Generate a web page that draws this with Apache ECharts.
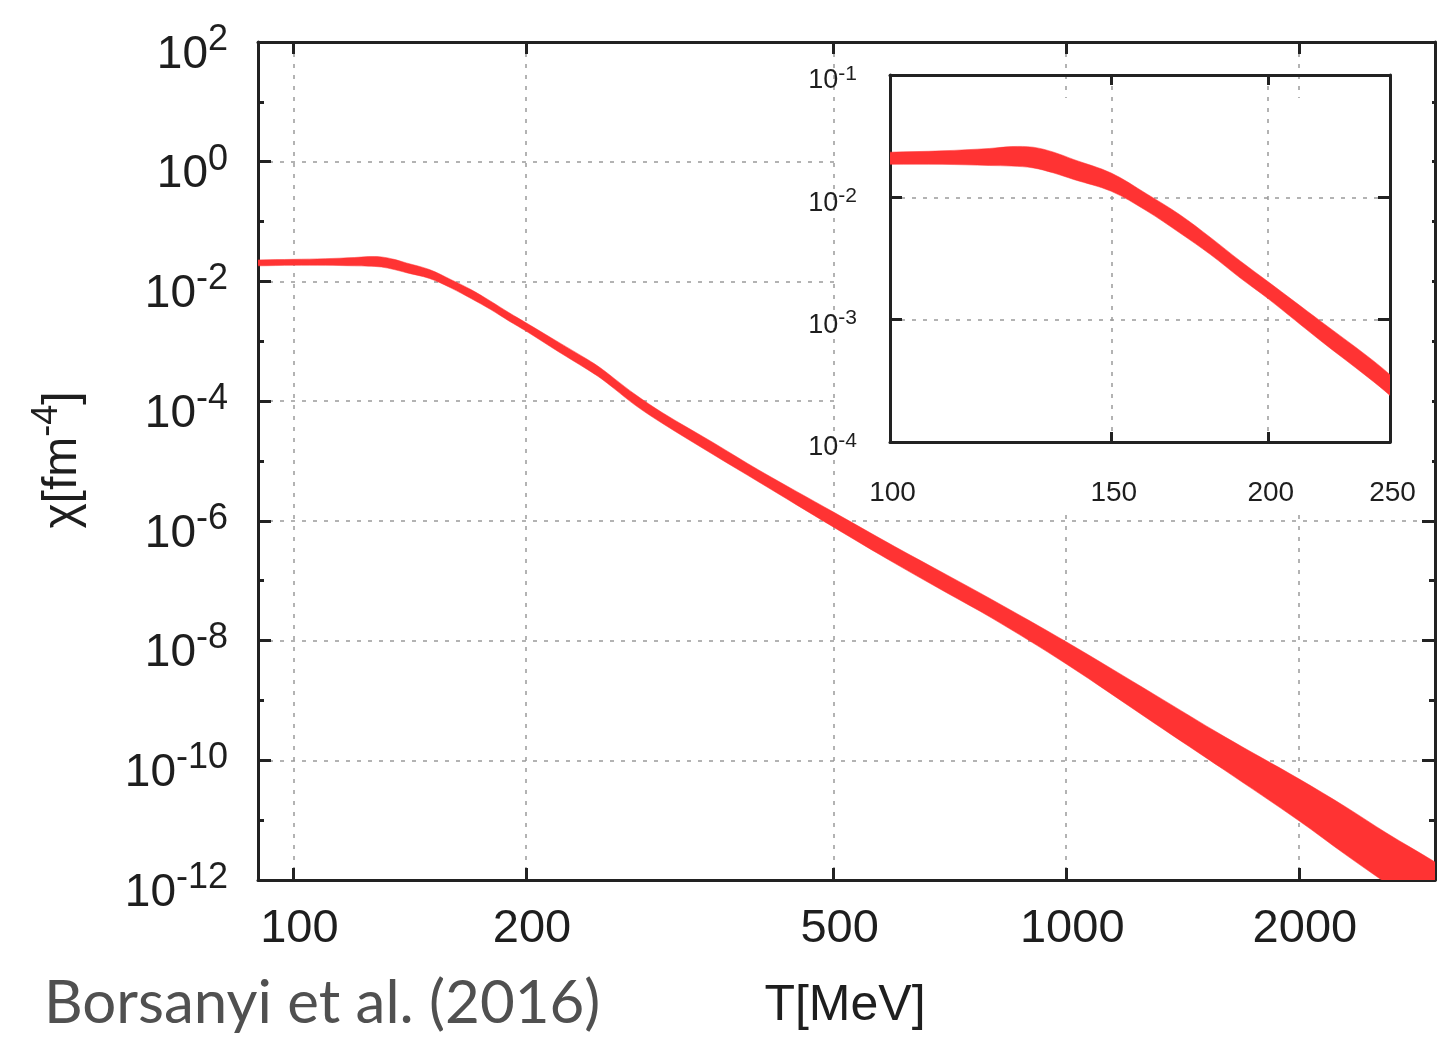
<!DOCTYPE html>
<html><head><meta charset="utf-8">
<script src="https://cdn.jsdelivr.net/npm/echarts@6/dist/echarts.min.js"></script>
<style>html,body{margin:0;padding:0;background:#fff}#c{width:1448px;height:1037px}</style>
</head><body><div id="c"></div>
<script>
// ---- data ----
const temperatures = [85, 90, 100, 110, 120, 125, 130, 135, 140, 150, 160, 170, 180, 190, 200, 220, 240, 250, 260, 277, 300, 350, 400, 500, 600, 700, 800, 1000, 1300, 1600, 2000, 2300, 2600, 3000, 3200];
const chiUpper = [2.29e-2, 2.29e-2, 2.34e-2, 2.40e-2, 2.51e-2, 2.60e-2, 2.57e-2, 2.34e-2, 2.04e-2, 1.58e-2, 1.07e-2, 7.24e-3, 4.68e-3, 3.02e-3, 2.04e-3, 9.77e-4, 5.01e-4, 3.55e-4, 2.40e-4, 1.29e-4, 6.46e-5, 2.00e-5, 7.08e-6, 1.40e-6, 3.72e-7, 1.26e-7, 4.90e-8, 9.55e-9, 1.26e-9, 2.51e-10, 4.90e-11, 1.66e-11, 6.03e-12, 2.00e-12, 1.17e-12];
const chiLower = [1.82e-2, 1.82e-2, 1.86e-2, 1.86e-2, 1.82e-2, 1.80e-2, 1.74e-2, 1.58e-2, 1.40e-2, 1.12e-2, 7.76e-3, 5.13e-3, 3.39e-3, 2.19e-3, 1.48e-3, 6.76e-4, 3.39e-4, 2.40e-4, 1.62e-4, 8.51e-5, 4.27e-5, 1.26e-5, 4.47e-6, 7.85e-7, 1.95e-7, 6.31e-8, 2.40e-8, 4.07e-9, 4.17e-10, 6.92e-11, 9.77e-12, 2.63e-12, 8.71e-13, 2.51e-13, 1.41e-13];
const xTickLabels = [100, 200, 500, 1000, 2000];
const yMajorTicks = [1e2, 1e0, 1e-2, 1e-4, 1e-6, 1e-8, 1e-10, 1e-12];
const yMinorTicks = [1e1, 1e-1, 1e-3, 1e-5, 1e-7, 1e-9, 1e-11];
const insetXTicks = [100, 150, 200, 250];
const insetYTicks = [1e-1, 1e-2, 1e-3, 1e-4];

// ---- styles ----
const FONT = 'Liberation Sans';
const TXT = '#1e1e1e';
const FRAME = '#222';
const BAND = '#ff3333';
const GRIDLINE = {show: true, lineStyle: {color: '#9a9a9a', width: 1.5, type: [4, 7]}};

function powLabel(v) {
  const e = Math.round(Math.log10(v));
  return '{b|10}{s|' + e + '}';
}
function plainLabel(v) { return String(Math.round(v)); }
function bandRenderer(params, api) {
  if (params.dataIndex !== 0) return;
  const pts = [];
  for (let i = 0; i < temperatures.length; i++) pts.push(api.coord([temperatures[i], chiUpper[i]]));
  for (let i = temperatures.length - 1; i >= 0; i--) pts.push(api.coord([temperatures[i], chiLower[i]]));
  return {type: 'polygon', shape: {points: pts, smooth: 0.35}, style: {fill: BAND, stroke: BAND, lineWidth: 0.5}};
}
const bandData = temperatures.map((t, i) => [t, chiUpper[i]]);

function ax(grid, pos, opts) {
  return Object.assign({
    type: 'log', gridIndex: grid, position: pos, logBase: 10,
    axisLine: {show: true, lineStyle: {color: FRAME, width: 3}},
    axisTick: {show: true, inside: true, length: 12, lineStyle: {color: FRAME, width: 3}},
    axisLabel: {show: false},
    splitLine: {show: false}, minorTick: {show: false}, minorSplitLine: {show: false}
  }, opts);
}

const mainYLabelRich = {
  b: {fontSize: 46, fontFamily: FONT, color: TXT, lineHeight: 56, verticalAlign: 'bottom'},
  s: {fontSize: 36, fontFamily: FONT, color: TXT, lineHeight: 6, verticalAlign: 'top'}
};
const insetYLabelRich = {
  b: {fontSize: 27, fontFamily: FONT, color: TXT, lineHeight: 31, verticalAlign: 'bottom'},
  s: {fontSize: 21, fontFamily: FONT, color: TXT, lineHeight: 4, verticalAlign: 'top'}
};

const option = {
  backgroundColor: '#fff',
  animation: false,
  grid: [
    {left: 258, top: 42, right: 13, bottom: 157, show: false},
    {left: 890, top: 75, width: 500, height: 367, show: false, z: 10}
  ],
  xAxis: [
    ax(0, 'bottom', {min: 90, max: 3000,
      axisTick: {show: true, inside: true, length: 12, customValues: xTickLabels, lineStyle: {color: FRAME, width: 3}},
      axisLabel: {show: true, customValues: xTickLabels, formatter: plainLabel, fontSize: 47, fontFamily: FONT, color: TXT, margin: 26, padding: [0, 0, 0, 12]},
      splitLine: GRIDLINE}),
    ax(0, 'top', {min: 90, max: 3000,
      axisTick: {show: true, inside: true, length: 12, customValues: xTickLabels, lineStyle: {color: FRAME, width: 3}}}),
    ax(1, 'bottom', {min: 100, max: 250, z: 10,
      axisTick: {show: true, inside: true, length: 10, customValues: insetXTicks, lineStyle: {color: FRAME, width: 3}},
      axisLabel: {show: true, customValues: insetXTicks, formatter: plainLabel, fontSize: 28, fontFamily: FONT, color: TXT, margin: 37, padding: [0, 0, 0, 5]},
      splitLine: GRIDLINE}),
    ax(1, 'top', {min: 100, max: 250, z: 10,
      axisTick: {show: true, inside: true, length: 10, customValues: insetXTicks, lineStyle: {color: FRAME, width: 3}}})
  ],
  yAxis: [
    ax(0, 'left', {min: 1e-12, max: 1e2,
      axisTick: {show: true, inside: true, length: 13, customValues: yMajorTicks, lineStyle: {color: FRAME, width: 3}},
      axisLabel: {show: true, customValues: yMajorTicks, formatter: powLabel, margin: 30, padding: [16, 0, 0, 0], rich: mainYLabelRich},
      splitLine: GRIDLINE}),
    ax(0, 'left', {min: 1e-12, max: 1e2, axisLine: {show: false},
      axisTick: {show: true, inside: true, length: 6, customValues: yMinorTicks, lineStyle: {color: FRAME, width: 3}}}),
    ax(0, 'right', {min: 1e-12, max: 1e2,
      axisTick: {show: true, inside: true, length: 13, customValues: yMajorTicks, lineStyle: {color: FRAME, width: 3}}}),
    ax(0, 'right', {min: 1e-12, max: 1e2, axisLine: {show: false},
      axisTick: {show: true, inside: true, length: 6, customValues: yMinorTicks, lineStyle: {color: FRAME, width: 3}}}),
    ax(1, 'left', {min: 1e-4, max: 1e-1, z: 10,
      axisTick: {show: true, inside: true, length: 12, customValues: insetYTicks, lineStyle: {color: FRAME, width: 3}},
      axisLabel: {show: true, customValues: insetYTicks, formatter: powLabel, margin: 33, padding: [8, 0, 0, 0], rich: insetYLabelRich},
      splitLine: GRIDLINE}),
    ax(1, 'right', {min: 1e-4, max: 1e-1, z: 10,
      axisTick: {show: true, inside: true, length: 12, customValues: insetYTicks, lineStyle: {color: FRAME, width: 3}}})
  ],
  graphic: [
    {type: 'rect', z: 3, shape: {x: 835, y: 98, width: 597, height: 414}, style: {fill: '#fff'}},
    {type: 'text', z: 20, x: 58, y: 460, rotation: Math.PI / 2,
      style: {text: '{a|χ[fm}{s|-4}{a|]}', align: 'center', verticalAlign: 'middle',
        rich: {a: {fontSize: 48, fontFamily: FONT, fill: TXT, lineHeight: 58, verticalAlign: 'bottom'},
               s: {fontSize: 36, fontFamily: FONT, fill: TXT, lineHeight: 6, verticalAlign: 'top'}}}},
    {type: 'text', z: 20, x: 845, y: 1006,
      style: {text: 'T[MeV]', font: '50px "Liberation Sans"', fill: TXT, align: 'center', verticalAlign: 'middle'}},
    {type: 'text', z: 20, x: 44, y: 1004,
      style: {text: 'Borsanyi et al. (2016)', font: '60px Lato', fill: '#505050', align: 'left', verticalAlign: 'middle'}}
  ],
  series: [
    {type: 'custom', xAxisIndex: 0, yAxisIndex: 0, z: 2, clip: true, renderItem: bandRenderer, data: bandData, silent: true},
    {type: 'custom', xAxisIndex: 2, yAxisIndex: 4, z: 12, clip: true, renderItem: bandRenderer, data: bandData, silent: true}
  ]
};
const chart = echarts.init(document.getElementById('c'), null, {renderer: 'canvas'});
chart.setOption(option);
</script>
</body></html>
